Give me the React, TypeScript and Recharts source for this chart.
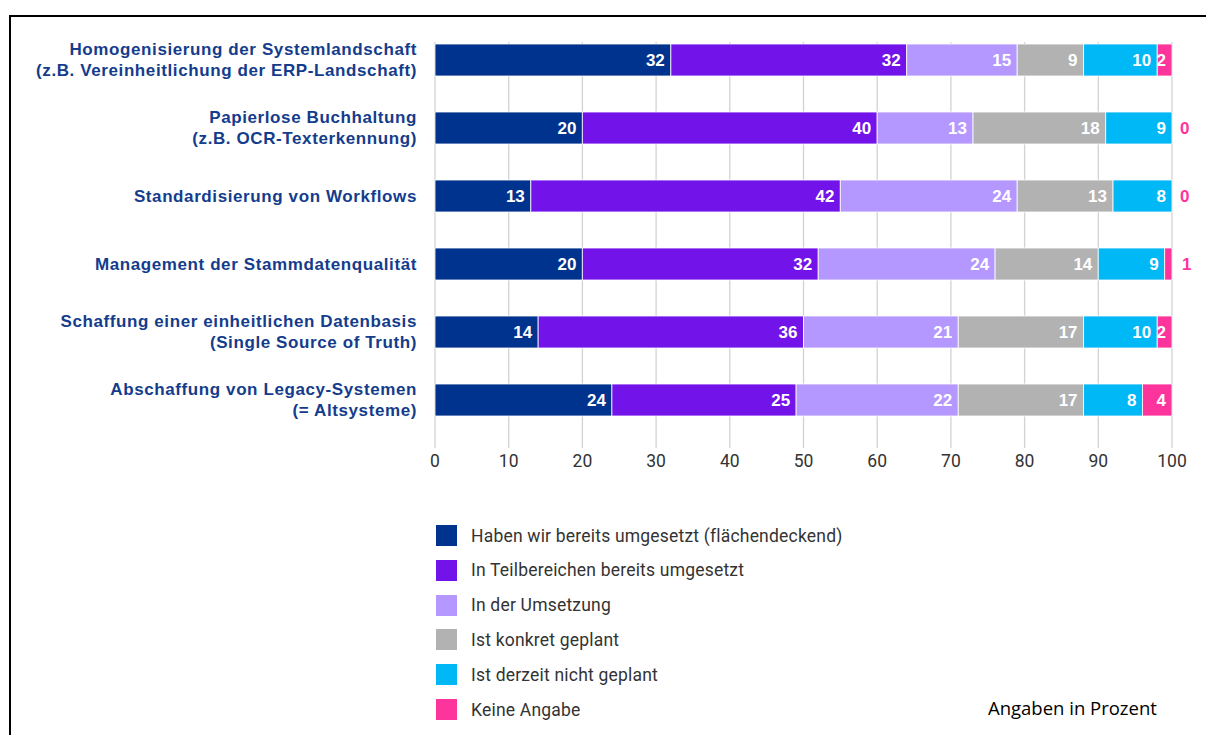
import React from "react";
import { BarChart, Bar, XAxis, YAxis, CartesianGrid, LabelList } from "recharts";

const categories = [
  "Homogenisierung der Systemlandschaft\n(z.B. Vereinheitlichung der ERP-Landschaft)",
  "Papierlose Buchhaltung\n(z.B. OCR-Texterkennung)",
  "Standardisierung von Workflows",
  "Management der Stammdatenqualität",
  "Schaffung einer einheitlichen Datenbasis\n(Single Source of Truth)",
  "Abschaffung von Legacy-Systemen\n(= Altsysteme)",
];

const umgesetzt = [32, 20, 13, 20, 14, 24];
const teilbereiche = [32, 40, 42, 32, 36, 25];
const umsetzung = [15, 13, 24, 24, 21, 22];
const geplant = [9, 18, 13, 14, 17, 17];
const nichtGeplant = [10, 9, 8, 9, 10, 8];
const keineAngabe = [2, 0, 0, 1, 2, 4];

const xTicks = [0, 10, 20, 30, 40, 50, 60, 70, 80, 90, 100];

const seriesNames = [
  "Haben wir bereits umgesetzt (flächendeckend)",
  "In Teilbereichen bereits umgesetzt",
  "In der Umsetzung",
  "Ist konkret geplant",
  "Ist derzeit nicht geplant",
  "Keine Angabe",
];
const seriesKeys = ["a", "b", "c", "d", "e", "f"];
const colors = ["#00338D", "#7213EA", "#B497FF", "#B2B2B2", "#00B8F5", "#FD349C"];

const data = categories.map((name, i) => ({
  name,
  a: umgesetzt[i],
  b: teilbereiche[i],
  c: umsetzung[i],
  d: geplant[i],
  e: nichtGeplant[i],
  f: keineAngabe[i],
}));

const labelFont = "'Liberation Sans', Arial, sans-serif";

const outsideLabel = (x: number, cy: number, value: any) => (
  <text
    x={x}
    y={cy}
    textAnchor="start"
    dominantBaseline="central"
    fill="#FD349C"
    fontFamily={labelFont}
    fontWeight={700}
    fontSize={17}
  >
    {value}
  </text>
);

const makeLabel = (isLast: boolean) => (props: any) => {
  const { x, y, width, height, value } = props;
  const cx = Number(x);
  const w = Number(width);
  const cy = Number(y) + Number(height) / 2;
  if (isLast && Number(value) < 2) {
    if (Number(value) === 0) return null;
    return outsideLabel(cx + w + 10, cy, value);
  }
  return (
    <text
      x={cx + w - 6}
      y={cy}
      textAnchor="end"
      dominantBaseline="central"
      fill="#ffffff"
      fontFamily={labelFont}
      fontWeight={700}
      fontSize={17}
    >
      {value}
    </text>
  );
};

// label for zero "Keine Angabe" values, drawn next to the end of the previous segment
const zeroLabel = (props: any) => {
  const { x, y, width, height, value } = props;
  if (Number(value) !== 0) return null;
  const cy = Number(y) + Number(height) / 2;
  return outsideLabel(Number(x) + Number(width) + 8, cy, value);
};

const YTick = (props: any) => {
  const { x, y, payload } = props;
  const lines = String(payload.value).split("\n");
  const lh = 21;
  const start = -((lines.length - 1) * lh) / 2;
  return (
    <g>
      {lines.map((l, i) => (
        <text
          key={i}
          x={x}
          y={y + start + i * lh}
          textAnchor="end"
          dominantBaseline="central"
          fill="#143C8C"
          fontFamily={labelFont}
          fontWeight={700}
          fontSize={17}
          letterSpacing={0.6}
        >
          {l}
        </text>
      ))}
    </g>
  );
};

export default function App() {
  return (
    <div style={{ position: "absolute", left: 0, top: 0, width: 1206, height: 735, background: "#fff", overflow: "hidden" }}>
      <div
        style={{
          position: "absolute",
          left: 9,
          top: 15,
          width: 1210,
          height: 740,
          borderLeft: "2px solid #000",
          borderTop: "2px solid #000",
          boxSizing: "border-box",
        }}
      />
      <div style={{ position: "absolute", left: 0, top: 0 }}>
        <BarChart
          width={1206}
          height={500}
          data={data}
          layout="vertical"
          margin={{ top: 42, right: 34, bottom: 0, left: 0 }}
          barSize={32}
        >
          <CartesianGrid horizontal={false} vertical={true} stroke="#D2D2D2" strokeWidth={1.3} />
          <XAxis
            type="number"
            domain={[0, 100]}
            ticks={xTicks}
            interval={0}
            height={52}
            tickLine={false}
            axisLine={false}
            tickSize={0}
            tickMargin={7}
            tick={{ fill: "#333333", fontSize: 17.5, fontFamily: "Roboto, sans-serif" }}
          />
          <YAxis
            type="category"
            dataKey="name"
            width={435}
            tickLine={false}
            axisLine={false}
            tickSize={0}
            tickMargin={18}
            padding={{ top: -16, bottom: 14 }}
            tick={<YTick />}
            interval={0}
          />
          {seriesKeys.map((k, i) => (
            <Bar
              key={k}
              dataKey={k}
              name={seriesNames[i]}
              stackId="s"
              fill={colors[i]}
              stroke="#ffffff"
              strokeWidth={0.8}
              isAnimationActive={false}
            >
              <LabelList dataKey={k} content={makeLabel(i === 5)} />
              {i === 4 ? <LabelList dataKey="f" content={zeroLabel} /> : null}
            </Bar>
          ))}
        </BarChart>
      </div>
      {seriesNames.map((n, i) => (
        <div
          key={n}
          style={{
            position: "absolute",
            left: 436,
            top: 525 + i * 34.8,
            height: 21,
            display: "flex",
            alignItems: "center",
            whiteSpace: "nowrap",
          }}
        >
          <div style={{ width: 21, height: 21, background: colors[i], marginRight: 14, flexShrink: 0 }} />
          <span style={{ fontFamily: "Roboto, sans-serif", fontSize: 17.5, letterSpacing: 0.2, color: "#333333" }}>{n}</span>
        </div>
      ))}
      <div
        style={{
          position: "absolute",
          left: 988,
          top: 695,
          fontFamily: "'Open Sans', sans-serif",
          fontSize: 18.5,
          color: "#000",
          whiteSpace: "nowrap",
        }}
      >
        Angaben in Prozent
      </div>
    </div>
  );
}
